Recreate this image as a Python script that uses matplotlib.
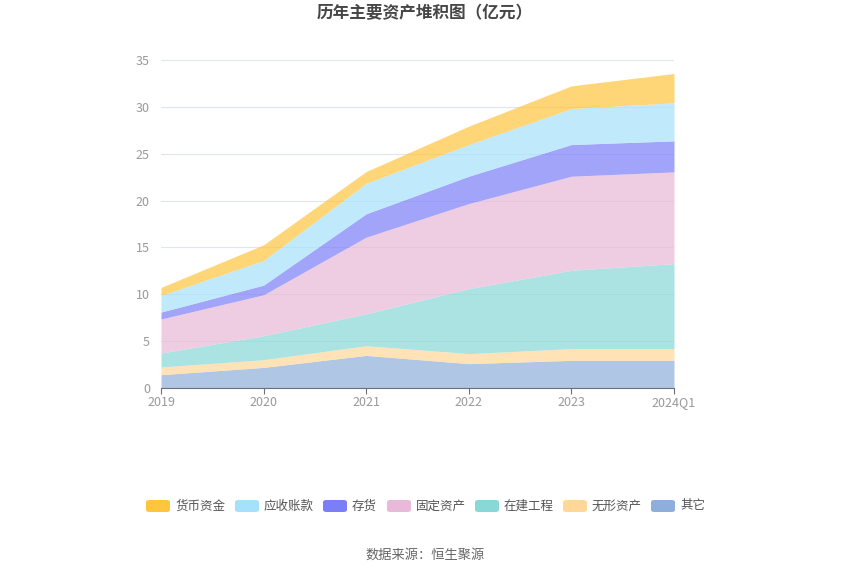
import numpy as np
import matplotlib.pyplot as plt
from matplotlib.patches import FancyBboxPatch

plt.rcParams['font.family'] = ['Noto Sans CJK SC', 'DejaVu Sans']

# 数据（亿元）
years = ['2019', '2020', '2021', '2022', '2023', '2024Q1']
qita = [1.42, 2.20, 3.48, 2.60, 2.95, 2.95]
wuxing = [0.82, 0.82, 1.03, 1.07, 1.25, 1.25]
zaijian = [1.49, 2.56, 3.41, 6.93, 8.36, 9.07]
guding = [3.63, 4.37, 8.18, 9.08, 10.04, 9.79]
cunhuo = [0.74, 1.03, 2.49, 2.92, 3.38, 3.31]
yingshou = [1.78, 2.63, 3.26, 3.38, 3.84, 4.06]
huobi = [0.85, 1.67, 1.25, 1.96, 2.42, 3.13]

# 从下往上堆叠
series = [
    ('其它', qita, '#8eaedb'),
    ('无形资产', wuxing, '#ffd899'),
    ('在建工程', zaijian, '#88d8d8'),
    ('固定资产', guding, '#e8b9d8'),
    ('存货', cunhuo, '#7b7ef7'),
    ('应收账款', yingshou, '#a6e1fb'),
    ('货币资金', huobi, '#ffc53d'),
]

fig = plt.figure(figsize=(8.5, 5.75), dpi=100)
ax = fig.add_axes([161 / 850, 1 - 388 / 575, 513 / 850, 328 / 575])

x = np.arange(len(years))
base = np.zeros(len(years))
for name, vals, color in series:
    top = base + np.array(vals)
    ax.fill_between(x, base, top, color=color, alpha=0.7, linewidth=0)
    base = top

ax.set_xlim(0, len(years) - 1)
ax.set_ylim(0, 35)
ax.set_yticks(range(0, 36, 5))
ax.set_xticks(x)
ax.set_xticklabels(years)
ax.grid(axis='y', color='#e0e6f1', linewidth=0.8)
ax.set_axisbelow(True)
for s in ['top', 'right', 'left']:
    ax.spines[s].set_visible(False)
ax.spines['bottom'].set_color('#6e7079')
ax.tick_params(axis='y', length=0, colors='#999999', labelsize=9, pad=8)
ax.tick_params(axis='x', length=4, color='#6e7079', colors='#999999', labelsize=9, pad=2)

fig.text(0.5, 1 - 13 / 575, '历年主要资产堆积图（亿元）', ha='center', va='center',
         fontsize=12, fontweight='bold', color='#464646')

# 图例
legend_items = list(reversed(series))
lx = [146, 235, 323, 387, 475, 563, 651]
ly = 1 - 506 / 575
for (name, vals, color), px in zip(legend_items, lx):
    box = FancyBboxPatch((px / 850, ly - 6 / 575), 24 / 850, 12 / 575,
                         boxstyle='round,pad=0,rounding_size=0.004',
                         transform=fig.transFigure, facecolor=color,
                         edgecolor='none')
    fig.patches.append(box)
    fig.text((px + 29) / 850, ly, name, ha='left', va='center',
             fontsize=9, color='#555555')

fig.text(0.5, 1 - 555 / 575, '数据来源：恒生聚源', ha='center', va='center',
         fontsize=9.5, color='#666666')

fig.savefig('out.png', dpi=100)
